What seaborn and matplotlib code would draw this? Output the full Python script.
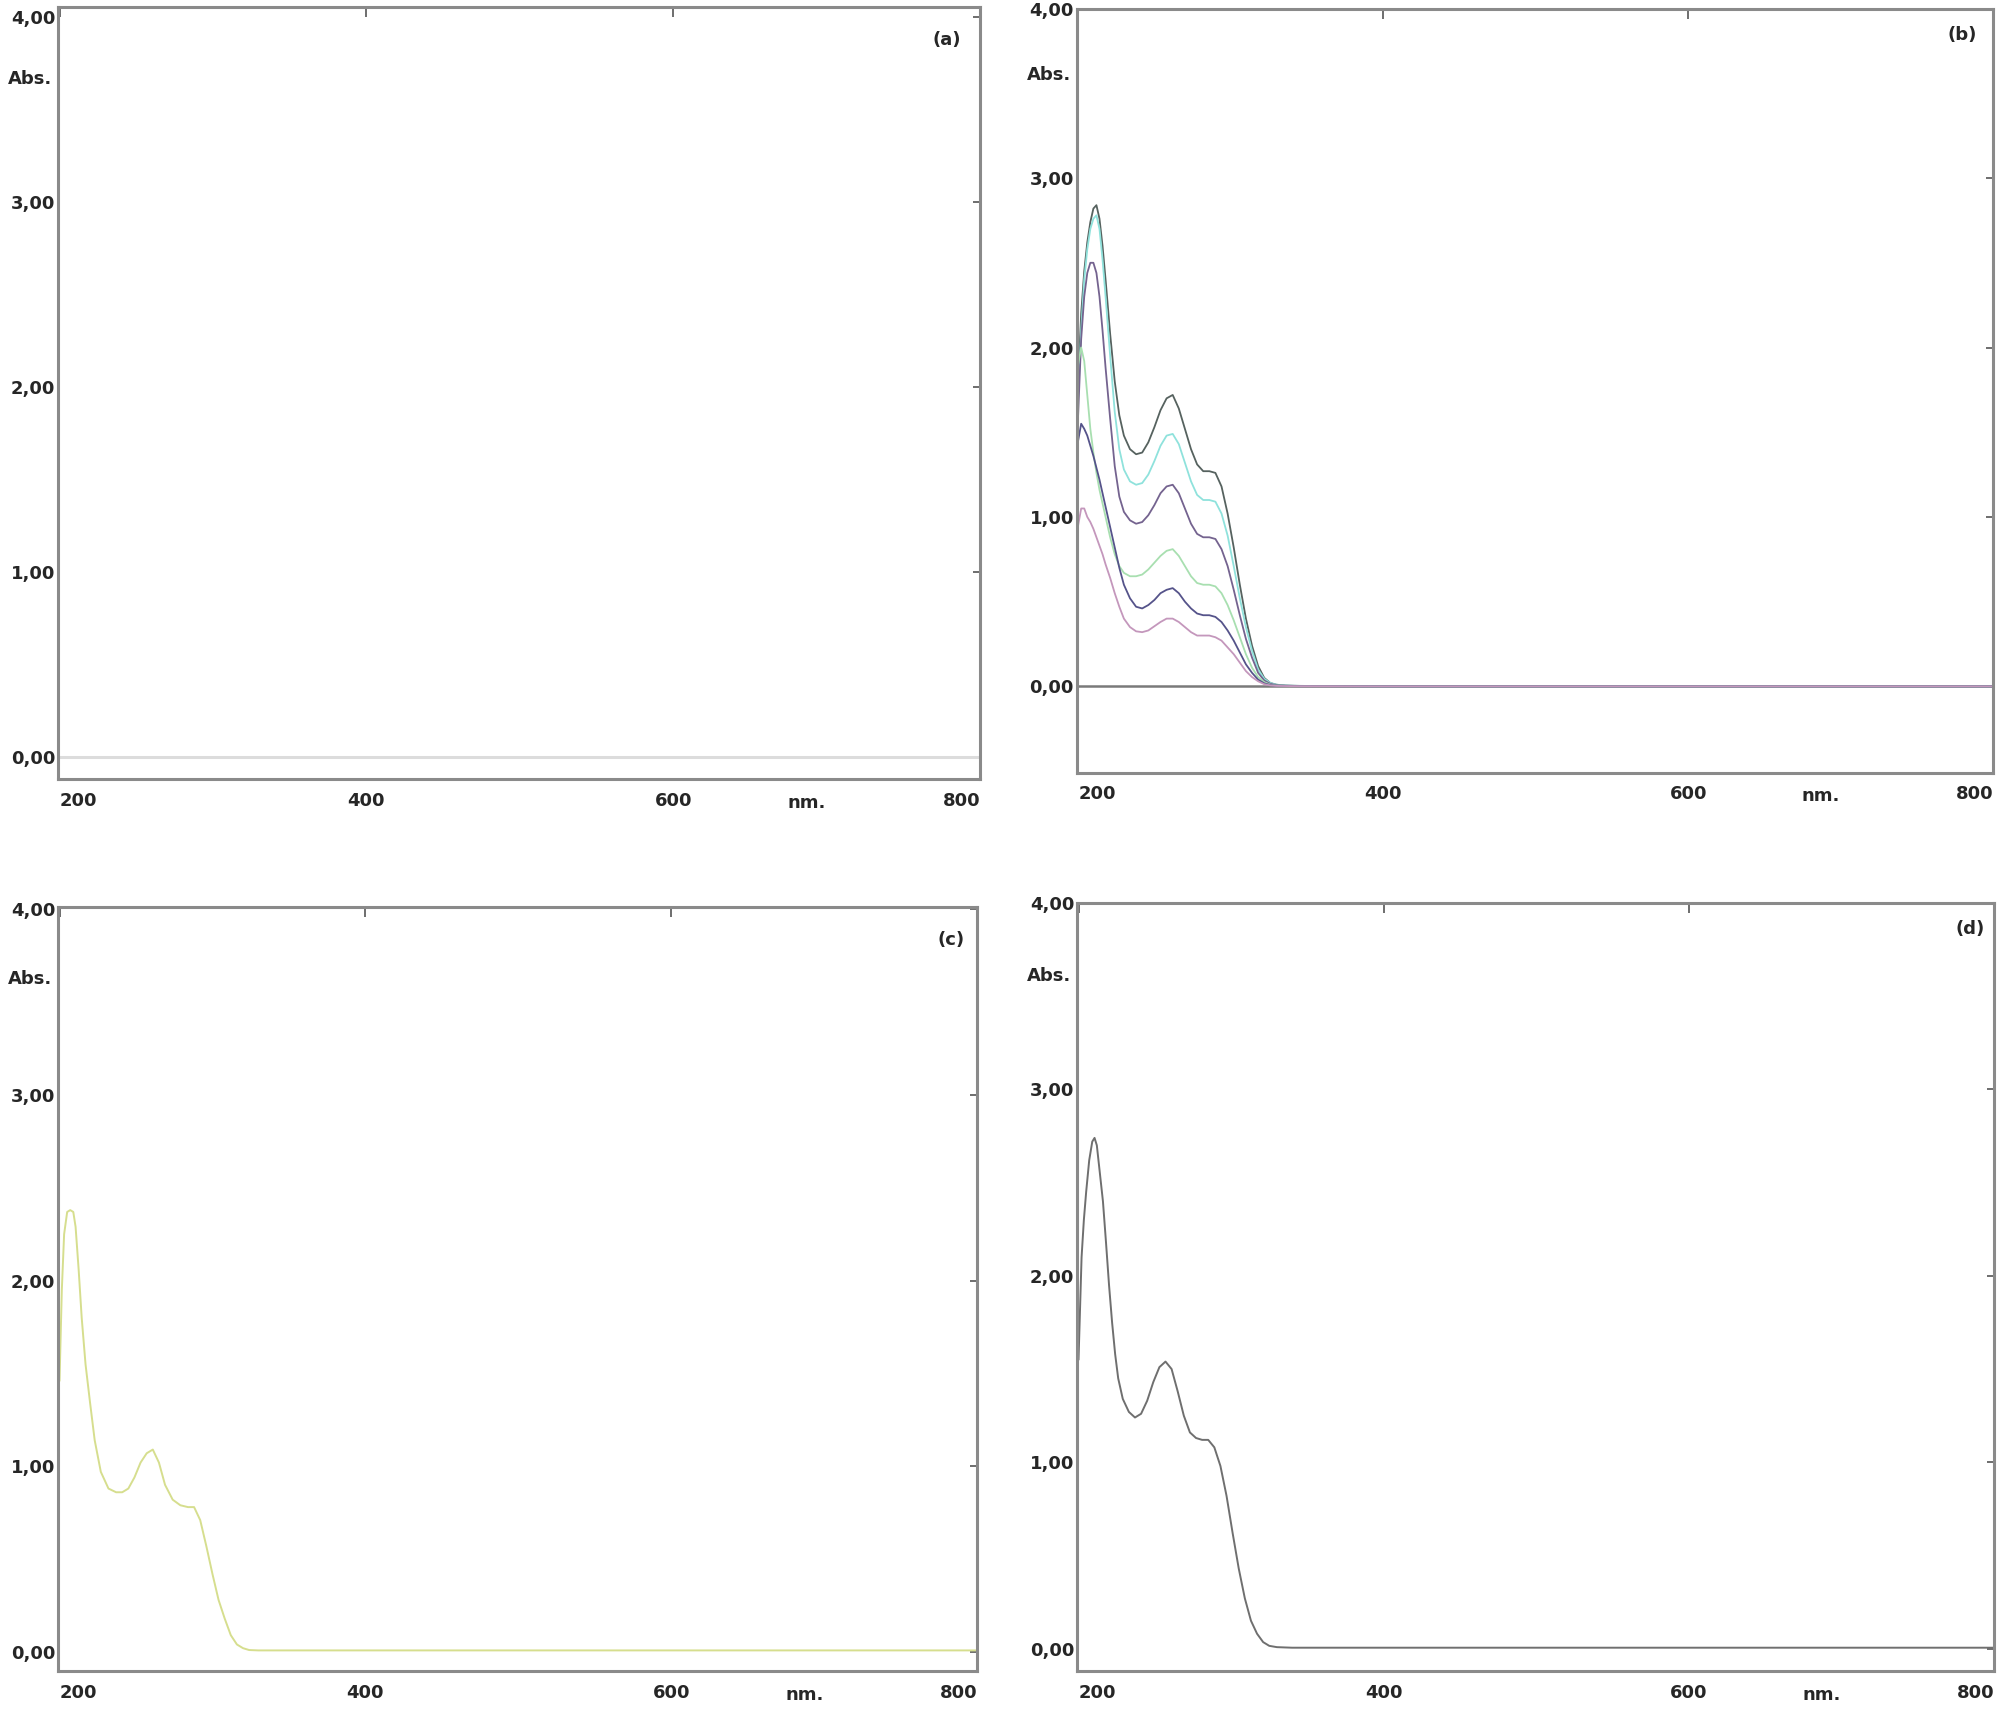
import matplotlib
matplotlib.use("Agg")
import matplotlib.pyplot as plt
import matplotlib.transforms as mtransforms
import pandas as pd
import seaborn as sns

# ---- data ----
x_ticks = [200, 400, 600, 800]
y_ticks = [0, 1, 2, 3, 4]
y_tick_labels = ["0,00", "1,00", "2,00", "3,00", "4,00"]
panel_labels = ["(a)", "(b)", "(c)", "(d)"]

# baseline (blank) used in (a) and (b)
wl_base = [200, 800]
abs_base = [0.0, 0.0]

# (b) six concentrations
wl_b = [200, 202, 204, 206, 208, 210, 212, 214, 216, 218,
        221, 224, 227, 230, 234, 238, 242, 246, 250, 254,
        258, 262, 266, 270, 274, 278, 282, 286, 290, 294,
        298, 302, 306, 310, 314, 318, 322, 326, 330, 336,
        345, 400, 600, 800]
b_1 = [1.80, 2.20, 2.45, 2.62, 2.74, 2.82, 2.84, 2.76, 2.60, 2.40,
       2.08, 1.80, 1.60, 1.48, 1.40, 1.37, 1.38, 1.44, 1.53, 1.63,
       1.70, 1.72, 1.64, 1.52, 1.40, 1.31, 1.27, 1.27, 1.26, 1.18,
       1.02, 0.82, 0.60, 0.40, 0.24, 0.12, 0.05, 0.02, 0.01, 0.005,
       0.003, 0.0, 0.0, 0.0]
b_2 = [1.70, 2.10, 2.40, 2.58, 2.70, 2.76, 2.78, 2.70, 2.52, 2.30,
       1.95, 1.62, 1.40, 1.28, 1.21, 1.19, 1.20, 1.25, 1.33, 1.42,
       1.48, 1.49, 1.43, 1.32, 1.21, 1.13, 1.10, 1.10, 1.09, 1.02,
       0.89, 0.71, 0.52, 0.35, 0.21, 0.10, 0.045, 0.02, 0.01, 0.005,
       0.003, 0.0, 0.0, 0.0]
b_3 = [1.60, 2.05, 2.30, 2.44, 2.50, 2.50, 2.44, 2.30, 2.10, 1.88,
       1.58, 1.30, 1.12, 1.03, 0.98, 0.96, 0.97, 1.01, 1.07, 1.14,
       1.18, 1.19, 1.14, 1.05, 0.96, 0.90, 0.88, 0.88, 0.87, 0.81,
       0.71, 0.57, 0.42, 0.28, 0.17, 0.08, 0.035, 0.015, 0.008, 0.004,
       0.002, 0.0, 0.0, 0.0]
b_4 = [1.90, 2.00, 1.92, 1.72, 1.52, 1.38, 1.26, 1.16, 1.08, 1.00,
       0.88, 0.78, 0.71, 0.67, 0.65, 0.65, 0.66, 0.69, 0.73, 0.77,
       0.80, 0.81, 0.77, 0.71, 0.65, 0.61, 0.60, 0.60, 0.59, 0.55,
       0.48, 0.39, 0.29, 0.19, 0.11, 0.055, 0.025, 0.01, 0.005, 0.003,
       0.002, 0.0, 0.0, 0.0]
b_5 = [1.45, 1.55, 1.52, 1.48, 1.42, 1.36, 1.29, 1.22, 1.14, 1.06,
       0.94, 0.82, 0.70, 0.60, 0.52, 0.47, 0.46, 0.48, 0.51, 0.55,
       0.57, 0.58, 0.55, 0.50, 0.46, 0.43, 0.42, 0.42, 0.41, 0.38,
       0.33, 0.27, 0.20, 0.13, 0.08, 0.04, 0.018, 0.008, 0.004, 0.002,
       0.001, 0.0, 0.0, 0.0]
b_6 = [0.95, 1.05, 1.05, 1.00, 0.97, 0.93, 0.88, 0.83, 0.78, 0.72,
       0.64, 0.55, 0.47, 0.40, 0.35, 0.325, 0.32, 0.33, 0.355, 0.38,
       0.40, 0.40, 0.38, 0.35, 0.32, 0.30, 0.30, 0.30, 0.29, 0.27,
       0.23, 0.19, 0.14, 0.09, 0.055, 0.03, 0.013, 0.006, 0.003, 0.002,
       0.001, 0.0, 0.0, 0.0]
b_series = [b_1, b_2, b_3, b_4, b_5, b_6]
b_colors = ["#56625f", "#8fe2dc", "#74638f", "#a8dfb0", "#55538a", "#c497bc"]

# (c) single spectrum
wl_c = [200, 201.5, 203, 205, 207, 209, 210.5, 212.5, 214.5, 217,
        220, 223, 227, 232, 237, 241, 245, 249, 253, 257,
        261, 265, 269, 274, 279, 284, 288, 292, 296, 300,
        304, 308, 312, 316, 320, 324, 330, 400, 600, 800]
abs_c = [1.46, 1.95, 2.25, 2.37, 2.38, 2.37, 2.29, 2.06, 1.80, 1.55,
         1.34, 1.14, 0.97, 0.88, 0.86, 0.86, 0.88, 0.94, 1.02, 1.07,
         1.09, 1.02, 0.90, 0.82, 0.79, 0.78, 0.78, 0.71, 0.57, 0.42,
         0.28, 0.18, 0.09, 0.04, 0.02, 0.01, 0.008, 0.008, 0.008, 0.008]

# (d) single spectrum
wl_d = [200, 202, 203.5, 205, 207, 209, 210.5, 212, 214, 216,
        218, 220, 222, 224, 226, 229, 233, 237, 241, 245,
        249, 253, 257, 261, 265, 269, 273, 277, 281, 285,
        289, 293, 297, 301, 305, 309, 313, 317, 321, 325,
        330, 340, 400, 600, 800]
abs_d = [1.55, 2.10, 2.30, 2.45, 2.62, 2.72, 2.74, 2.70, 2.55, 2.40,
         2.18, 1.95, 1.75, 1.58, 1.45, 1.34, 1.27, 1.24, 1.26, 1.33,
         1.43, 1.51, 1.54, 1.50, 1.38, 1.25, 1.16, 1.13, 1.12, 1.12,
         1.08, 0.98, 0.82, 0.62, 0.43, 0.27, 0.15, 0.08, 0.035, 0.015,
         0.008, 0.005, 0.005, 0.005, 0.005]

sns.set_style("white")
plt.rcParams["font.family"] = ["DejaVu Sans"]

fig = plt.figure(figsize=(20, 17.25), dpi=100)

# axes boxes [left, bottom, width, height] in figure fraction
boxes = [
    [0.029, 0.5484, 0.461, 0.4476],
    [0.5383, 0.552, 0.4584, 0.443],
    [0.029, 0.0313, 0.4595, 0.4429],
    [0.5385, 0.0313, 0.4585, 0.4452],
]
ylims = [(-0.12, 4.055), (-0.51, 4.0), (-0.103, 4.013), (-0.12, 4.0)]
label_pos = [(0.964, 0.957), (0.966, 0.965), (0.972, 0.957), (0.974, 0.966)]

axes = [fig.add_axes(b) for b in boxes]

# (a) blank
df_a = pd.DataFrame({"nm": wl_base, "Abs": abs_base})
sns.lineplot(data=df_a, x="nm", y="Abs", ax=axes[0], color="#dcdcdc", linewidth=2.2)

# (b) calibration series
rows = []
for i, vals in enumerate(b_series):
    for w, v in zip(wl_b, vals):
        rows.append({"nm": w, "Abs": v, "series": "s%d" % (i + 1)})
df_b = pd.DataFrame(rows)
df_b0 = pd.DataFrame({"nm": wl_base, "Abs": abs_base})
sns.lineplot(data=df_b0, x="nm", y="Abs", ax=axes[1], color="#7a7a7a", linewidth=1.8)
sns.lineplot(data=df_b, x="nm", y="Abs", hue="series", palette=b_colors,
             ax=axes[1], linewidth=1.3, legend=False, sort=False)

# (c)
df_c = pd.DataFrame({"nm": wl_c, "Abs": abs_c})
sns.lineplot(data=df_c, x="nm", y="Abs", ax=axes[2], color="#d6de8e", linewidth=1.4, sort=False)

# (d)
df_d = pd.DataFrame({"nm": wl_d, "Abs": abs_d})
sns.lineplot(data=df_d, x="nm", y="Abs", ax=axes[3], color="#6f6f6f", linewidth=1.4, sort=False)

for ax, ylim, lab, lp in zip(axes, ylims, panel_labels, label_pos):
    ax.set_xlim(199, 800)
    ax.set_ylim(*ylim)
    ax.set_xlabel("")
    ax.set_ylabel("")
    ax.set_xticks(x_ticks)
    ax.set_xticklabels([str(t) for t in x_ticks], fontsize=13, fontweight="bold")
    ax.set_yticks(y_ticks)
    ax.set_yticklabels(y_tick_labels, fontsize=13, fontweight="bold")
    xl = ax.get_xticklabels()
    xl[0].set_horizontalalignment("left")
    xl[-1].set_horizontalalignment("right")
    ax.tick_params(axis="x", direction="in", length=7, width=1.2, color="#555555",
                   top=True, pad=9)
    ax.tick_params(axis="y", direction="in", length=5, width=1.2, color="#555555",
                   right=True, pad=2)
    for sp in ax.spines.values():
        sp.set_color("#8a8a8a")
        sp.set_linewidth(2.2)
        sp.set_visible(True)
    trans_y = mtransforms.blended_transform_factory(ax.transAxes, ax.transData)
    ax.text(-0.006, ylim[1] - 0.39, "Abs.", transform=trans_y, ha="right", va="center",
            fontsize=13, fontweight="bold")
    trans_x = mtransforms.blended_transform_factory(ax.transData, ax.transAxes)
    ax.text(687, -0.031, "nm.", transform=trans_x, ha="center", va="center",
            fontsize=13, fontweight="bold")
    ax.text(lp[0], lp[1], lab, transform=ax.transAxes, ha="center", va="center",
            fontsize=13, fontweight="bold")

plt.savefig("out.png", dpi=100)
